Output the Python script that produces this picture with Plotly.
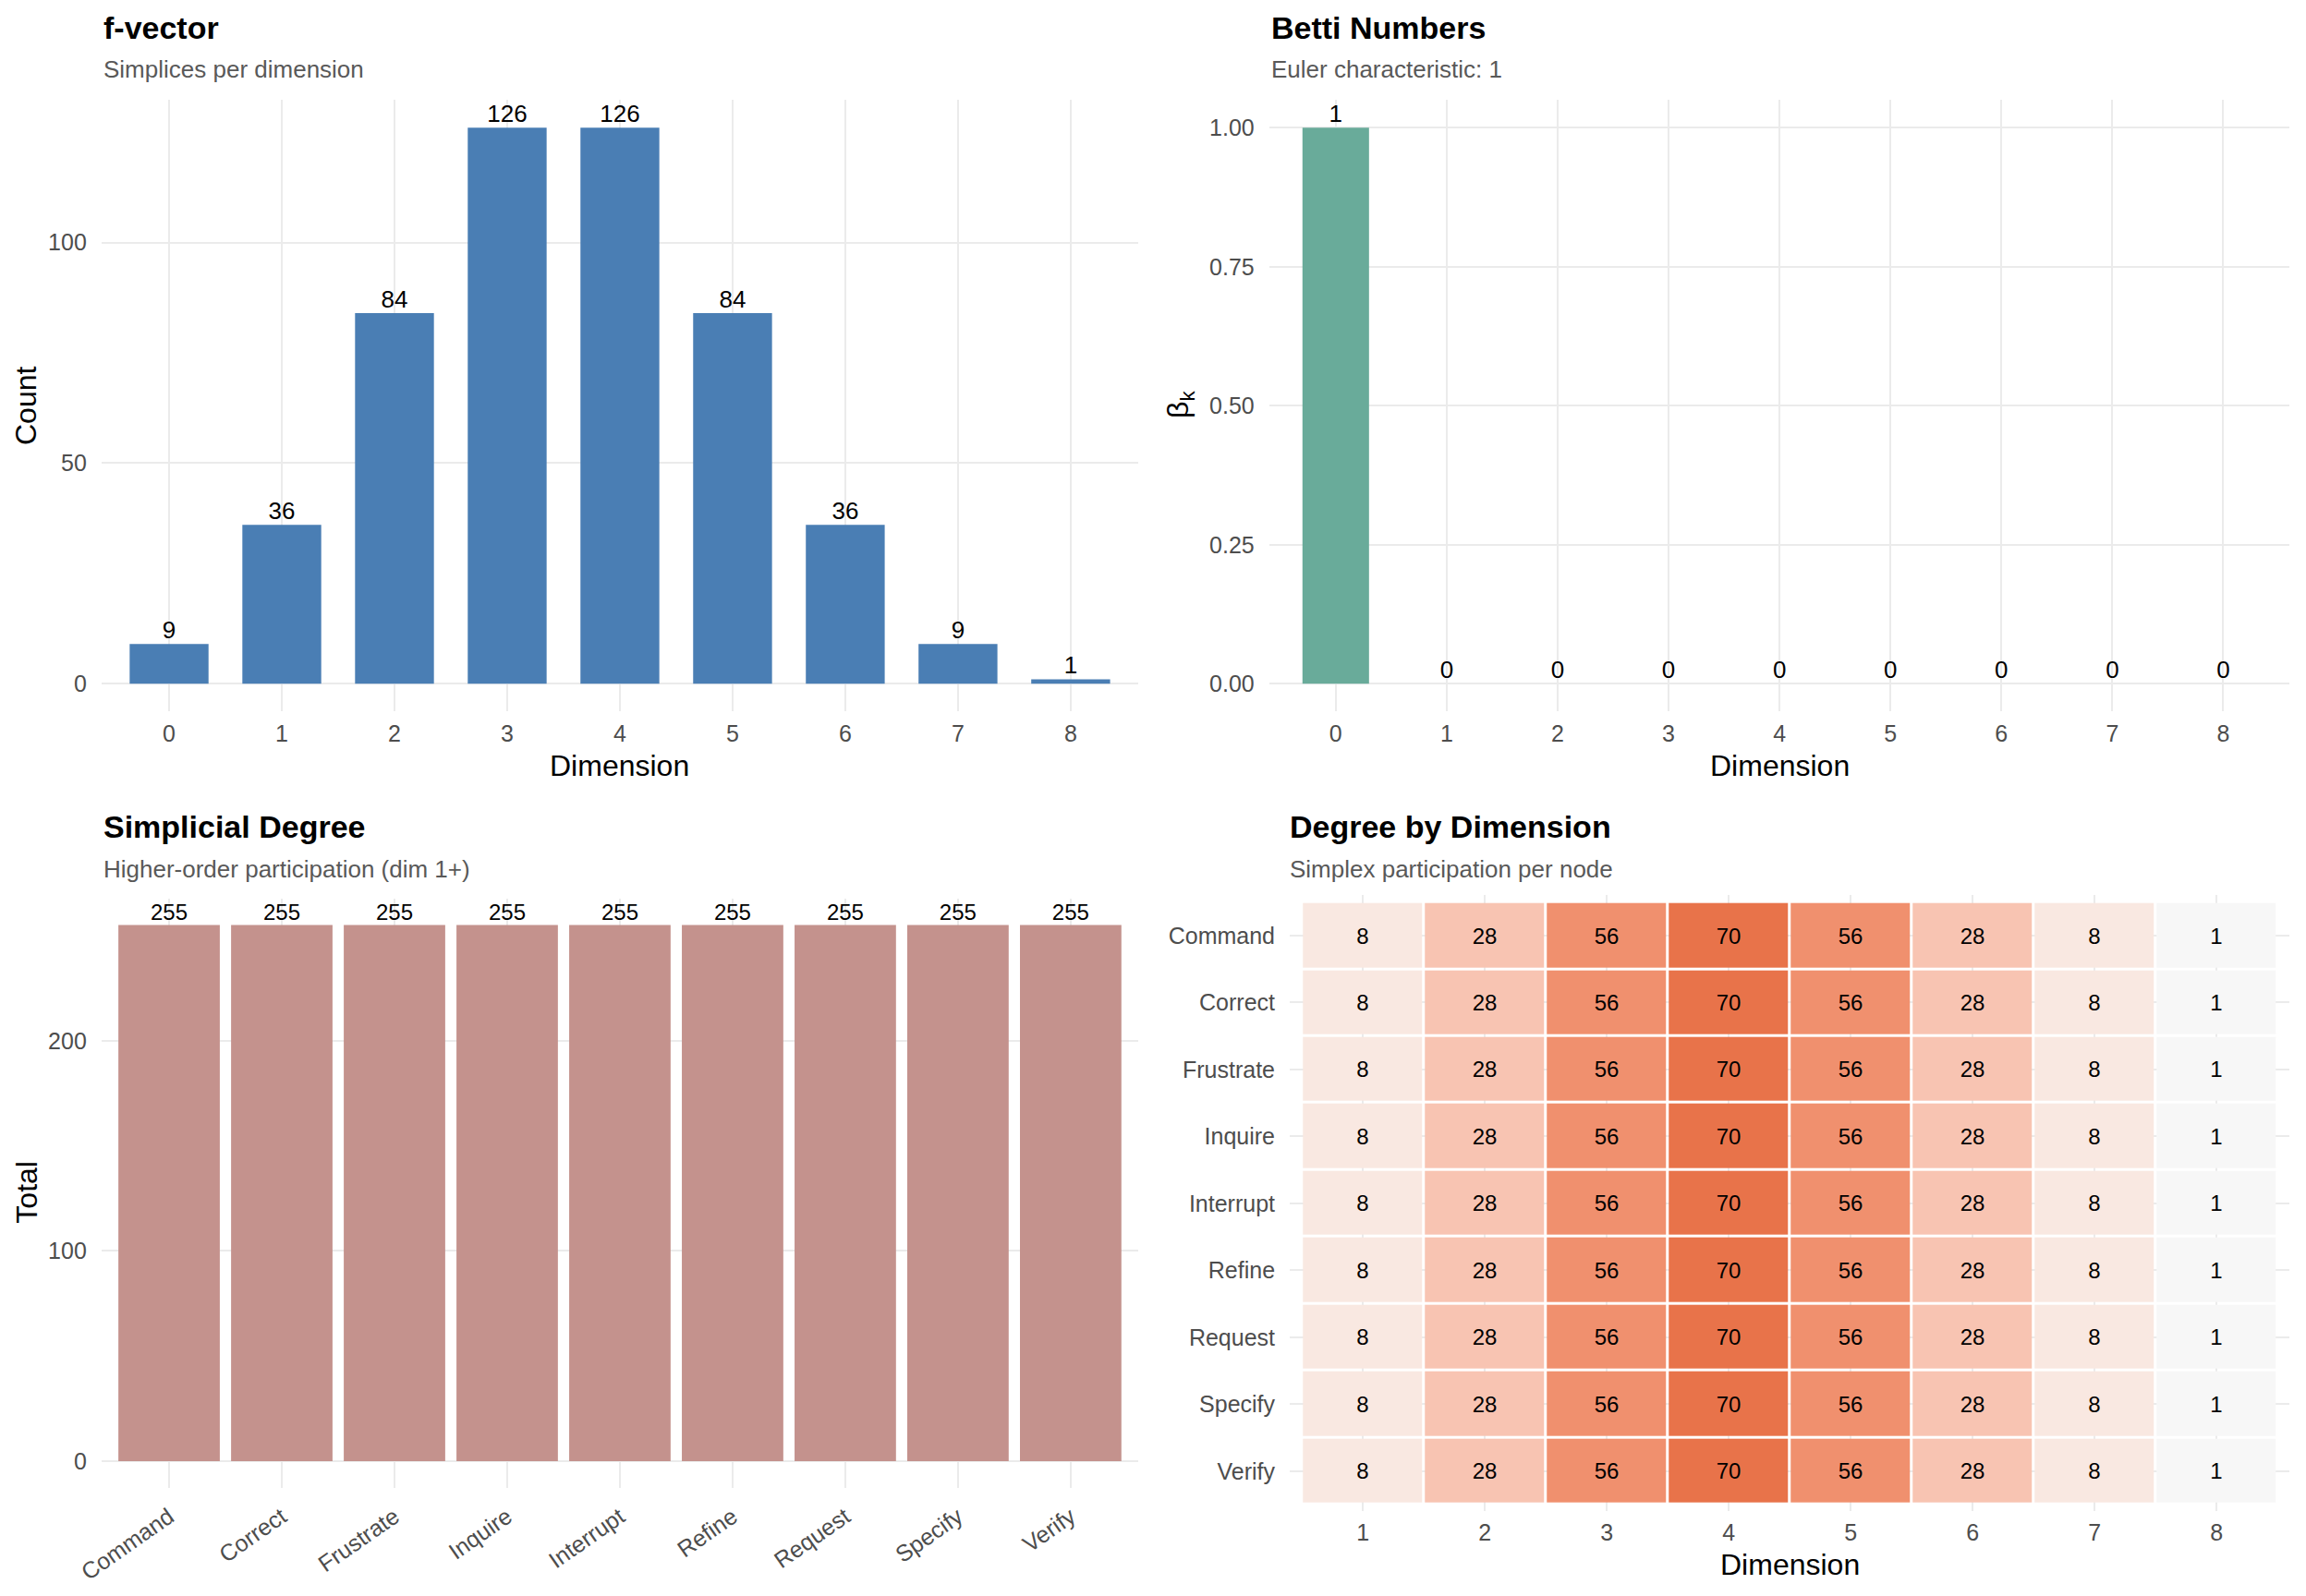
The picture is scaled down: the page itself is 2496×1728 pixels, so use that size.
import plotly.graph_objects as go

# данные
dims = [0, 1, 2, 3, 4, 5, 6, 7, 8]
f_vector = [9, 36, 84, 126, 126, 84, 36, 9, 1]
betti = [1, 0, 0, 0, 0, 0, 0, 0, 0]
nodes = ["Command", "Correct", "Frustrate", "Inquire", "Interrupt",
         "Refine", "Request", "Specify", "Verify"]
degree_total = [255, 255, 255, 255, 255, 255, 255, 255, 255]
heat_dims = [1, 2, 3, 4, 5, 6, 7, 8]
heat_row = [8, 28, 56, 70, 56, 28, 8, 1]
heat_z = [heat_row[:] for _ in nodes]

W, H = 2496, 1728
SX = 1568.0
SY = 1568.0 * H / W


def px(x):
    return x / SX


def py(y):
    return 1 - y / SY


FONT = "Liberation Sans"
GRID = "#EBEBEB"
TICK = "#4D4D4D"

fig = go.Figure()

# f-vector
fig.add_trace(go.Bar(x=dims, y=f_vector, width=0.7, marker=dict(color="#4A7EB4", line_width=0),
                     xaxis="x", yaxis="y", hoverinfo="x+y"))
fig.add_trace(go.Scatter(x=dims, y=f_vector, mode="text", text=[str(v) for v in f_vector],
                         textposition="top center", textfont=dict(size=26, color="black", family=FONT),
                         xaxis="x", yaxis="y", cliponaxis=False, hoverinfo="skip"))

# Betti numbers
fig.add_trace(go.Bar(x=dims, y=betti, width=0.6, marker=dict(color="#69AB9A", line_width=0),
                     xaxis="x2", yaxis="y2", hoverinfo="x+y"))
fig.add_trace(go.Scatter(x=dims, y=betti, mode="text", text=[str(v) for v in betti],
                         textposition="top center", textfont=dict(size=26, color="black", family=FONT),
                         xaxis="x2", yaxis="y2", cliponaxis=False, hoverinfo="skip"))

# simplicial degree
fig.add_trace(go.Bar(x=nodes, y=degree_total, width=0.9, marker=dict(color="#C4928D", line_width=0),
                     xaxis="x3", yaxis="y3", hoverinfo="x+y"))
fig.add_trace(go.Scatter(x=nodes, y=degree_total, mode="text", text=[str(v) for v in degree_total],
                         textposition="top center", textfont=dict(size=24, color="black", family=FONT),
                         xaxis="x3", yaxis="y3", cliponaxis=False, hoverinfo="skip"))

# heatmap
zmin, zmax = min(heat_row), max(heat_row)


def stop(v):
    return (v - zmin) / (zmax - zmin)


cscale = [[0, "#F7F7F7"], [stop(8), "#F9E8E1"], [stop(28), "#F8C4B2"],
          [stop(56), "#F0906E"], [1, "#E8734A"]]
fig.add_trace(go.Heatmap(x=heat_dims, y=nodes, z=heat_z, colorscale=cscale, zmin=zmin, zmax=zmax,
                         showscale=False, xgap=3, ygap=3,
                         texttemplate="%{z}", textfont=dict(size=24, color="black", family=FONT),
                         xaxis="x4", yaxis="y4"))

axis_common = dict(showgrid=True, gridcolor=GRID, gridwidth=2, zeroline=False, showline=False,
                   tickfont=dict(size=25, color=TICK, family=FONT), ticks="outside",
                   tickcolor="rgba(0,0,0,0)", fixedrange=True, automargin=False)

fig.update_layout(
    width=W, height=H,
    margin=dict(l=0, r=0, t=0, b=0, pad=0),
    paper_bgcolor="white", plot_bgcolor="white",
    showlegend=False,
    font=dict(family=FONT),
    xaxis=dict(axis_common, domain=[px(69), px(774)], range=[-0.6, 8.6], tickvals=dims,
               ticklen=2, anchor="y"),
    yaxis=dict(axis_common, domain=[py(484), py(68)], range=[-6.3, 132.3], tickvals=[0, 50, 100],
               ticklen=10, anchor="x"),
    xaxis2=dict(axis_common, domain=[px(863), px(1557)], range=[-0.6, 8.6], tickvals=dims,
                ticklen=2, anchor="y2"),
    yaxis2=dict(axis_common, domain=[py(484), py(68)], range=[-0.05, 1.05],
                tickvals=[0, 0.25, 0.5, 0.75, 1.0], ticktext=["0.00", "0.25", "0.50", "0.75", "1.00"],
                ticklen=10, anchor="x2"),
    xaxis3=dict(axis_common, domain=[px(69), px(774)], range=[-0.6, 8.6], tickangle=-35,
                categoryorder="array", categoryarray=nodes, ticklen=6, anchor="y3"),
    yaxis3=dict(axis_common, domain=[py(1012), py(611)], range=[-12.75, 267.75],
                tickvals=[0, 100, 200], ticklen=10, anchor="x3"),
    xaxis4=dict(axis_common, domain=[px(877), px(1557)], range=[0.4, 8.6], tickvals=heat_dims,
                ticklen=1, anchor="y4"),
    yaxis4=dict(axis_common, domain=[py(1028), py(609)], range=[8.6, -0.6],
                categoryorder="array", categoryarray=nodes, ticklen=10, anchor="x4"),
)


def note(text, x, y, size, color="black", bold=False, anchor="left", angle=0):
    if bold:
        text = "<b>" + text + "</b>"
    fig.add_annotation(text=text, x=px(x), y=py(y), xref="paper", yref="paper",
                       xanchor=anchor, yanchor="middle", showarrow=False, textangle=angle,
                       font=dict(size=size, color=color, family=FONT))


# заголовки
note("f-vector", 69, 19, 34, bold=True)
note("Simplices per dimension", 69, 47, 26, color="#595959")
note("Betti Numbers", 863, 19, 34, bold=True)
note("Euler characteristic: 1", 863, 47, 26, color="#595959")
note("Simplicial Degree", 69, 562, 34, bold=True)
note("Higher-order participation (dim 1+)", 69, 591, 26, color="#595959")
note("Degree by Dimension", 876, 562, 34, bold=True)
note("Simplex participation per node", 876, 591, 26, color="#595959")

# подписи осей
note("Dimension", 421, 521, 32, anchor="center")
note("Dimension", 1210, 521, 32, anchor="center")
note("Dimension", 1217, 1064, 32, anchor="center")
note("Count", 18, 276, 32, anchor="center", angle=-90)
note("Total", 18, 811, 32, anchor="center", angle=-90)
note("β<sub>k</sub>", 803, 275, 32, anchor="center", angle=-90)

# убрать отступ body, чтобы график лег ровно в окно
fig.write_html("out.html", config={"displayModeBar": False},
               post_script="document.body.style.margin='0';")
